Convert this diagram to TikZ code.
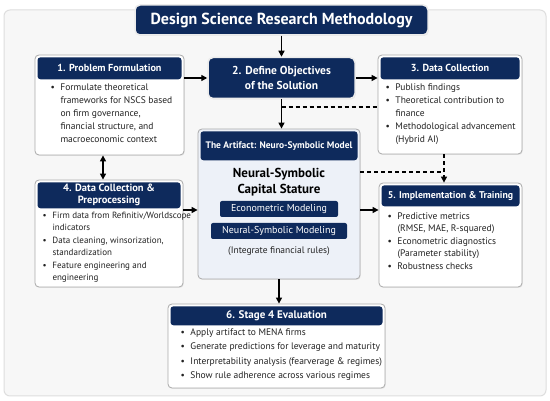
\documentclass[tikz,border=0pt]{standalone}
\usepackage{fontspec}
\setmainfont{PT Sans}
\usetikzlibrary{positioning,arrows.meta,shadows}
\definecolor{navy}{RGB}{14,42,92}
\definecolor{panelbg}{RGB}{247,247,247}
\definecolor{panelline}{RGB}{222,222,222}
\definecolor{cardline}{RGB}{170,170,170}
\definecolor{artfill}{RGB}{237,241,248}
\definecolor{bodyink}{RGB}{34,34,34}
\newcommand{\bu}{\makebox[10pt][l]{\textbullet}}
\newcommand{\cont}{\hspace*{10pt}}
\tikzset{
  card/.style = {draw=cardline, fill=white, rounded corners=4pt,
    line width=0.8pt, inner sep=0pt,
    drop shadow={opacity=0.12, shadow xshift=0.8pt, shadow yshift=-1pt}},
  headbar/.style = {fill=navy, text=white, rounded corners=3pt, inner sep=0pt,
    align=center, font=\bfseries\fontsize{10.2}{12}\selectfont},
  navybox/.style = {fill=navy, text=white, draw=white!85!gray, line width=1.5pt,
    rounded corners=5pt, align=center, inner sep=0pt,
    drop shadow={opacity=0.15, shadow xshift=0.8pt, shadow yshift=-1pt}},% titre et etape 2
  pill/.style = {fill=navy, text=white, rounded corners=2pt, inner sep=0pt,
    minimum height=16pt, font=\fontsize{10}{12}\selectfont},
  bodytxt/.style = {align=left, inner sep=0pt, text=bodyink,
    font=\fontsize{9.5}{13}\selectfont},
  arr/.style = {-{Triangle[length=6pt,width=6pt]}, line width=1.4pt},
  dbl/.style = {{Triangle[length=6pt,width=6pt]}-{Triangle[length=6pt,width=6pt]}, line width=1.4pt},
  dsh/.style = {dashed, dash pattern=on 4pt off 3pt, line width=1.2pt}
}
\begin{document}
\begin{tikzpicture}[x=1pt,y=-1pt]
\useasboundingbox (0,0) rectangle (550,401);
\fill[white] (0,0) rectangle (550,401);
\draw[panelline, fill=panelbg, rounded corners=6pt, line width=1pt] (4,10) rectangle (546,396);

% titre
\node[navybox, minimum width=293pt, minimum height=30pt,
  font=\bfseries\fontsize{16}{19}\selectfont] (title) at (281.5,20) {Design Science Research Methodology};

% etapes
\node[card, minimum width=149pt, minimum height=100pt] (b1) at (109.5,105) {};
\node[headbar, minimum width=144pt, minimum height=22pt, below=2.5pt of b1.north] (h1) {1. Problem Formulation};
\node[bodytxt, below right=4pt and 13pt of h1.south west] (t1)
  {\bu Formulate theoretical\\ \cont frameworks for NSCS based\\ \cont on firm governance,\\
   \cont financial structure, and\\ \cont macroeconomic context};

\node[navybox, minimum width=147pt, minimum height=41pt,
  font=\bfseries\fontsize{11.5}{14.5}\selectfont] (b2) at (281.5,78) {2. Define Objectives\\of the Solution};

\node[card, minimum width=144pt, minimum height=99pt] (b3) at (450,104.5) {};
\node[headbar, minimum width=139pt, minimum height=22pt, below=2.5pt of b3.north] (h3) {3. Data Collection};
\node[bodytxt, below right=4pt and 5pt of h3.south west] (t3)
  {\bu Publish findings\\ \bu Theoretical contribution to\\ \cont finance\\
   \bu Methodological advancement\\ \cont (Hybrid AI)};

\node[card, minimum width=162pt, minimum height=150pt, fill=artfill] (art) at (279,204) {};
\node[headbar, minimum width=157pt, minimum height=29pt, below=2.5pt of art.north,
  font=\bfseries\fontsize{9.5}{12}\selectfont] (ah) {The Artifact: Neuro-Symbolic Model};
\node[align=center, inner sep=0pt, font=\bfseries\fontsize{13}{16}\selectfont] (nsc) at (279,182)
  {Neural-Symbolic\\Capital Stature};
\node[pill, minimum width=118pt] (p1) at (279,209) {Econometric Modeling};
\node[pill, minimum width=136pt] (p2) at (279,231) {Neural-Symbolic Modeling};
\node[inner sep=0pt, text=bodyink, font=\fontsize{9.5}{12}\selectfont] (rules) at (279,251) {(Integrate financial rules)};

\node[card, minimum width=148pt, minimum height=107pt] (b4) at (109,233.5) {};
\node[headbar, minimum width=143pt, minimum height=26pt, below=2.5pt of b4.north,
  font=\bfseries\fontsize{10.5}{12}\selectfont] (h4) {4. Data Collection \&\\Preprocessing};
\node[bodytxt, below right=3pt and 5pt of h4.south west, font=\fontsize{9}{12.5}\selectfont] (t4)
  {\bu Firm data from Refinitiv/Worldscope\\ \cont indicators\\ \bu Data cleaning, winsorization,\\
   \cont standardization\\ \bu Feature engineering and\\ \cont engineering};

\node[card, minimum width=143pt, minimum height=104pt] (b5) at (450.5,235) {};
\node[headbar, minimum width=138pt, minimum height=21pt, below=2.5pt of b5.north,
  font=\bfseries\fontsize{9.8}{12}\selectfont] (h5) {5. Implementation \& Training};
\node[bodytxt, below right=6pt and 6pt of h5.south west, font=\fontsize{9.5}{12.5}\selectfont] (t5)
  {\bu Predictive metrics\\ \cont (RMSE, MAE, R-squared)\\ \bu Econometric diagnostics\\
   \cont (Parameter stability)\\ \bu Robustness checks};

\node[card, minimum width=217pt, minimum height=84pt] (b6) at (276.5,346) {};
\node[headbar, minimum width=212pt, minimum height=19pt, below=2.5pt of b6.north,
  font=\bfseries\fontsize{11}{12}\selectfont] (h6) {6. Stage 4 Evaluation};
\node[bodytxt, below right=3pt and 10pt of h6.south west, font=\fontsize{9.5}{14.5}\selectfont] (t6)
  {\bu Apply artifact to MENA firms\\ \bu Generate predictions for leverage and maturity\\
   \bu Interpretability analysis (fearverage \& regimes)\\ \bu Show rule adherence across various regimes};

% fleches
\coordinate (d1) at (281.5,107);
\coordinate (jn) at (444,172);
\coordinate (mid) at (0,210);
\coordinate (lv) at (103,0);
\draw[arr] (title) -- (b2);
\draw[arr] (b1.east |- b2) -- (b2.west);
\draw[arr] (b2.east) -- (b2.east -| b3.west);
\draw[arr] (b2.south) -- (b2.south |- art.north);
\draw[dsh] (d1) -- (d1 -| b3.west);
\draw[dsh] (art.east |- jn) -- (jn);
\draw[dsh, -{Triangle[length=6pt,width=6pt]}] (b3.south -| jn) -- (b5.north -| jn);
\draw[dbl] (b1.south -| lv) -- (b4.north -| lv);
\draw[arr] (b4.east |- mid) -- (art.west |- mid);
\draw[arr] (art.east |- mid) -- (b5.west |- mid);
\draw[arr] (art.south) -- (art.south |- b6.north);
\end{tikzpicture}
\end{document}
